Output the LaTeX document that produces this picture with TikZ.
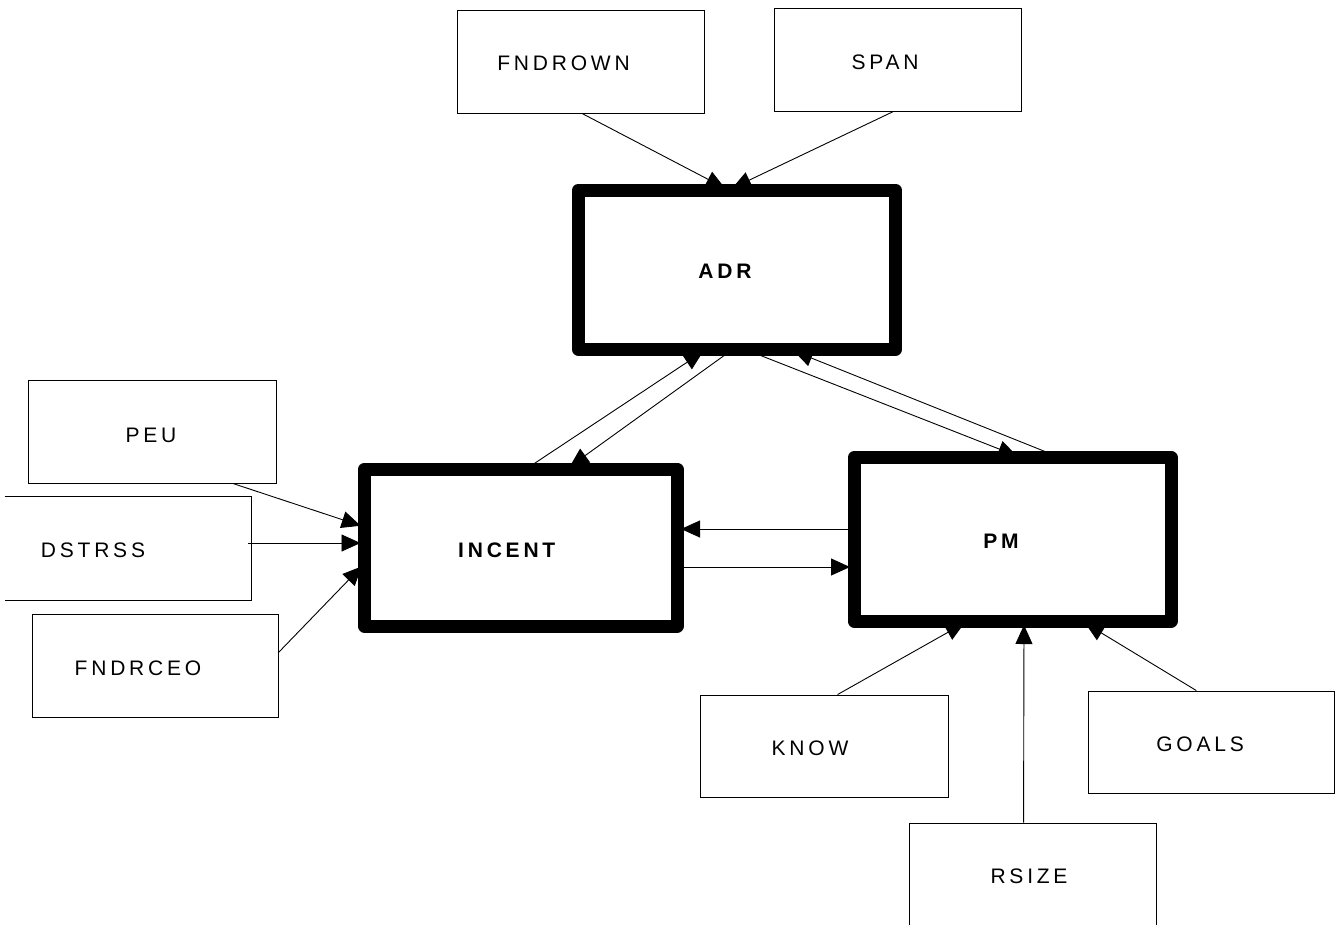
\documentclass[tikz,border=0pt]{standalone}
\usepackage{fontspec}
\setmainfont{Liberation Sans}
\newfontfamily\boxfont[LetterSpace=18]{Liberation Sans}
\usetikzlibrary{arrows.meta}

\begin{document}
\begin{tikzpicture}[x=1pt,y=-1pt,
  thin box/.style={draw, line width=0.9pt, minimum width=247pt, minimum height=103pt, inner sep=0pt},
  thick box/.style={draw, line width=13pt, line join=round, inner sep=0pt, outer sep=0pt},
  txt/.style={font=\boxfont\fontsize{21}{25}\selectfont, inner sep=0pt},
  btxt/.style={font=\boxfont\bfseries\fontsize{21}{25}\selectfont, inner sep=0pt},
  link/.style={line width=0.9pt},
  arr/.style={link, -{Triangle[length=19pt,width=17pt]}, shorten >=4pt},
]
\useasboundingbox (0,0) rectangle (1336,924);

% variable boxes
\node[thin box, label={[txt,xshift=-17pt,yshift=-1.5pt]center:FNDROWN}] (fndrown) at (580.5,61.5) {};
\node[thin box, label={[txt,xshift=-12.5pt,yshift=-2.5pt]center:SPAN}] (span) at (897.5,59.5) {};
\node[thin box, minimum width=248pt, label={[txt,xshift=-1pt,yshift=-3.5pt]center:PEU}] (peu) at (152,431.5) {};
\node[thin box, draw=none, minimum width=246pt, label={[txt,xshift=-35pt,yshift=-1.5pt]center:DSTRSS}] (dstrss) at (128,548.5) {};
\draw[link] (dstrss.north west) -- (dstrss.north east) -- (dstrss.south east) -- (dstrss.south west);
\node[thin box, minimum width=246pt, label={[txt,xshift=-17pt,yshift=-2.5pt]center:FNDRCEO}] (fndrceo) at (155,665.5) {};
\node[thin box, minimum width=248pt, minimum height=102pt, label={[txt,xshift=-14pt,yshift=-2pt]center:KNOW}] (know) at (824,746) {};
\node[thin box, minimum width=246pt, minimum height=102pt, label={[txt,xshift=-11pt,yshift=-2pt]center:GOALS}] (goals) at (1211,742) {};
\node[thin box, minimum height=106pt, label={[txt,xshift=-3.5pt]center:RSIZE}] (rsize) at (1032.5,876) {};

% core constructs
\node[thick box, minimum width=317pt, minimum height=159.5pt, label={[btxt,xshift=-12pt,yshift=-2pt]center:ADR}] (adr) at (737,269.75) {};
\node[thick box, minimum width=312.5pt, minimum height=157pt, label={[btxt,xshift=-14pt,yshift=-2.5pt]center:INCENT}] (incent) at (520.75,547.5) {};
\node[thick box, minimum width=317pt, minimum height=163.5pt, label={[btxt,xshift=-11.5pt,yshift=-2pt]center:PM}] (pm) at (1012.5,539.25) {};

% paths
\draw[arr] ([xshift=1.5pt]fndrown.south) -- ([xshift=150pt]adr.north west);
\draw[arr] ([xshift=-4pt]span.south) -- ([xshift=150pt]adr.north west);
\draw[arr] ([xshift=154pt]adr.south west) -- ([xshift=202pt]incent.north west);
\draw[arr] ([xshift=161.5pt]incent.north west) -- ([xshift=127.8pt]adr.south west);
\draw[arr] ([xshift=166.8pt]adr.south west) -- ([xshift=166.8pt]pm.north west);
\draw[arr] ([xshift=206pt]pm.north west) -- ([xshift=211.5pt]adr.south west);
\draw[arr] ([xshift=205.3pt]peu.south west) -- ([yshift=-58pt]incent.north west);
\draw[arr] ([xshift=-3pt,yshift=5.5pt]dstrss.east) -- ([yshift=-74pt]incent.north west);
\draw[arr] ([yshift=-39pt]fndrceo.north east) -- ([yshift=-94.5pt]incent.north west);
\draw[arr] ([yshift=-71.5pt]pm.north west) -- ([yshift=-60pt]incent.north east);
\draw[arr] ([yshift=-98pt]incent.north east) -- ([yshift=-109.5pt]pm.north west);
\draw[arr] ([xshift=138pt]know.north west) -- ([xshift=114pt]pm.south west);
\draw[arr] ([xshift=115pt]rsize.north west) -- ([xshift=170pt]pm.south west);
\draw[arr] ([xshift=108.8pt]goals.north west) -- ([xshift=227.7pt]pm.south west);
\end{tikzpicture}
\end{document}
